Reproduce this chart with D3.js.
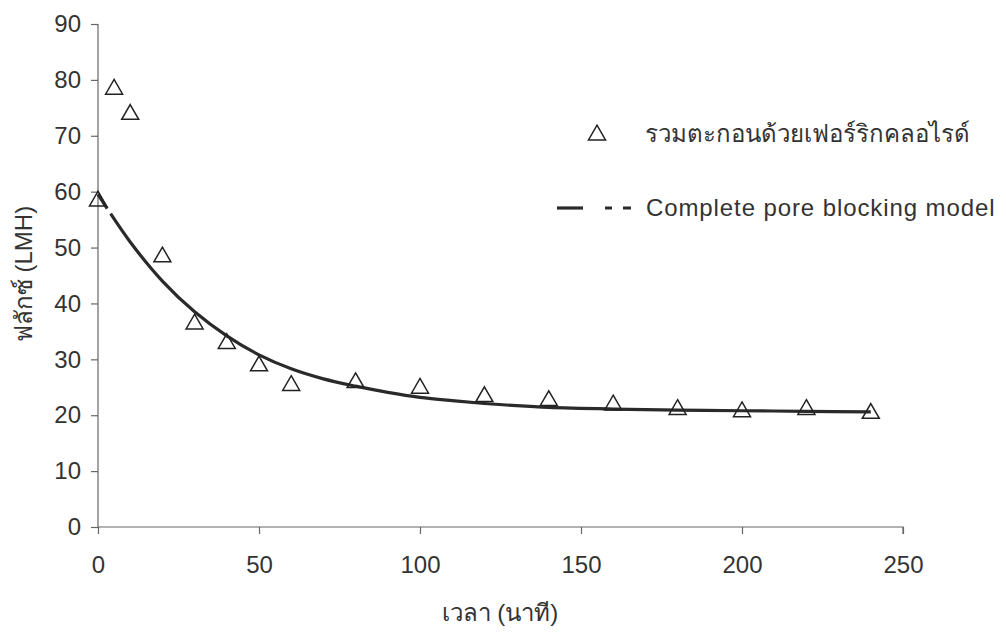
<!DOCTYPE html>
<html>
<head>
<meta charset="utf-8">
<script src="https://d3js.org/d3.v7.min.js"></script>
<style>
  body { margin: 0; background: #fff; }
  svg text { font-family: "Liberation Sans", Arial, sans-serif; fill: #333; }
</style>
</head>
<body>
<script>
// measured points (time in min, flux in LMH)
var timeObs = [0, 5, 10, 20, 30, 40, 50, 60, 80, 100, 120, 140, 160, 180, 200, 220, 240];
var fluxObs = [58.5, 78.5, 74, 48.5, 36.5, 33, 29, 25.5, 26, 25, 23.5, 22.8, 22, 21.2, 20.8, 21.2, 20.5];

// model curve
var timeModel = [0, 10, 20, 30, 40, 50, 60, 70, 80, 90, 100, 110, 120, 130, 140, 160, 180, 200, 220, 240];
var fluxModel = [59.5, 51, 44, 38.5, 34.2, 30.8, 28.3, 26.5, 25.2, 24.1, 23.2, 22.6, 22.1, 21.7, 21.4, 21.1, 20.9, 20.8, 20.7, 20.6];

var xTicks = [0, 50, 100, 150, 200, 250];
var yTicks = [0, 10, 20, 30, 40, 50, 60, 70, 80, 90];

var legendObs = "รวมตะกอนด้วยเฟอร์ริกคลอไรด์";
var legendModel = "Complete pore blocking model";
var xLabel = "เวลา (นาที)";
var yLabel = "ฟลักซ์ (LMH)";

var W = 1006, H = 632;
var margin = {left: 98, top: 24, right: 103, bottom: 105};

var x = d3.scaleLinear().domain([0, 250]).range([margin.left, W - margin.right]);
var y = d3.scaleLinear().domain([0, 90]).range([H - margin.bottom, margin.top]);

var svg = d3.select("body").append("svg")
    .attr("width", W).attr("height", H);

// axes
var xAxis = svg.append("g")
    .attr("transform", "translate(0," + y(0) + ")")
    .call(d3.axisBottom(x).tickValues(xTicks).tickSize(7).tickPadding(22));
var yAxis = svg.append("g")
    .attr("transform", "translate(" + x(0) + ",0)")
    .call(d3.axisLeft(y).tickValues(yTicks).tickSize(7).tickPadding(10));

[xAxis, yAxis].forEach(function(g){
    g.select(".domain").attr("stroke", "#666").attr("stroke-width", 1.2);
    g.selectAll(".tick line").attr("stroke", "#666").attr("stroke-width", 1.2);
    g.selectAll(".tick text").attr("font-size", 24).attr("fill", "#333")
        .attr("font-family", "Liberation Sans, Arial, sans-serif");
});
xAxis.select(".domain").attr("d", "M" + x(0) + ",0H" + x(250) + "V7");
yAxis.select(".domain").attr("d", "M0," + y(90) + "V" + y(0));

// model line: short broken start, rest solid
var line = d3.line()
    .x(function(d){ return x(d[0]); })
    .y(function(d){ return y(d[1]); })
    .curve(d3.curveCatmullRom);
var modelData = timeModel.map(function(t, i){ return [t, fluxModel[i]]; });

svg.append("path")
    .datum(modelData)
    .attr("d", line)
    .attr("fill", "none")
    .attr("stroke", "#2a2a2a")
    .attr("stroke-width", 3.2)
    .attr("stroke-dasharray", "17,6,3000");

// observed triangles (hollow, curve shows through)
var tri = d3.symbol().type(d3.symbolTriangle).size(125);
svg.selectAll(".obs")
    .data(timeObs.map(function(t, i){ return [t, fluxObs[i]]; }))
    .enter().append("path")
    .attr("class", "obs")
    .attr("d", tri)
    .attr("transform", function(d){ return "translate(" + x(d[0]) + "," + (y(d[1]) + 1) + ")"; })
    .attr("fill", "none")
    .attr("stroke", "#222")
    .attr("stroke-width", 1.5);

// legend
var lg = svg.append("g");
lg.append("path")
    .attr("d", tri)
    .attr("transform", "translate(597,135)")
    .attr("fill", "none").attr("stroke", "#222").attr("stroke-width", 1.5);
lg.append("text")
    .attr("x", 645).attr("y", 142)
    .attr("font-size", 24)
    .text(legendObs);
lg.append("line")
    .attr("x1", 557).attr("x2", 583).attr("y1", 208).attr("y2", 208)
    .attr("stroke", "#2a2a2a").attr("stroke-width", 3.2);
lg.append("line")
    .attr("x1", 605).attr("x2", 631).attr("y1", 208).attr("y2", 208)
    .attr("stroke", "#2a2a2a").attr("stroke-width", 3.2)
    .attr("stroke-dasharray", "7,11,8");
lg.append("text")
    .attr("x", 646).attr("y", 216)
    .attr("font-size", 24)
    .attr("letter-spacing", 0.9)
    .text(legendModel);

// axis titles
svg.append("text")
    .attr("x", 500).attr("y", 621)
    .attr("text-anchor", "middle")
    .attr("font-size", 24)
    .text(xLabel);
svg.append("text")
    .attr("transform", "translate(32,274) rotate(-90)")
    .attr("text-anchor", "middle")
    .attr("font-size", 24)
    .text(yLabel);
</script>
</body>
</html>
